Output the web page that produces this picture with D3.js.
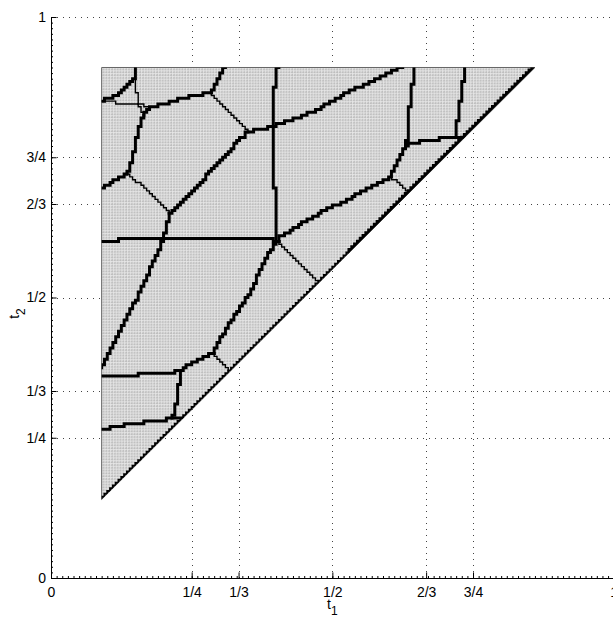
<!DOCTYPE html>
<html>
<head>
<meta charset="utf-8">
<script src="https://d3js.org/d3.v7.min.js"></script>
<style>
  body { margin: 0; background: #fff; }
  svg { display: block; font-family: "Liberation Sans", Arial, Helvetica, sans-serif; }
</style>
</head>
<body>
<div id="chart"></div>
<script>
// tick positions and their labels
const xTickValues = [0, 1/4, 1/3, 1/2, 2/3, 3/4, 1];
const xTickLabels = ["0", "1/4", "1/3", "1/2", "2/3", "3/4", "1"];
const yTickValues = [0, 1/4, 1/3, 1/2, 2/3, 3/4, 1];
const yTickLabels = ["0", "1/4", "1/3", "1/2", "2/3", "3/4", "1"];

// the shaded region (t1, t2)
const triangle = [[0.09, 0.14], [0.09, 0.91], [0.86, 0.91]];
const diagonalThin = [[0.09, 0.14], [0.53, 0.58]];
const diagonalThick = [[0.53, 0.58], [0.86, 0.91]];

// region boundaries, thick
const arcTopLeft = [[0.090, 0.850], [0.117, 0.861], [0.140, 0.880], [0.149, 0.890], [0.152, 0.913]];
const ridgeS_B = [[0.164, 0.825], [0.179, 0.840], [0.194, 0.843], [0.235, 0.856], [0.283, 0.865]];
const ridgeB_top = [[0.283, 0.865], [0.306, 0.906], [0.309, 0.913]];
const ridgeS_D = [[0.164, 0.825], [0.158, 0.805], [0.152, 0.781], [0.146, 0.751], [0.137, 0.721]];
const ridgeD_left = [[0.137, 0.721], [0.090, 0.695]];
const vertical1 = [[0.403, 0.913], [0.398, 0.882], [0.395, 0.852], [0.395, 0.808], [0.398, 0.674], [0.398, 0.620], [0.403, 0.600]];
const longDiagonal = [[0.351, 0.796], [0.395, 0.805], [0.466, 0.831], [0.526, 0.865], [0.585, 0.893], [0.624, 0.913]];
const ridgeC_E = [[0.351, 0.796], [0.306, 0.750], [0.242, 0.677], [0.212, 0.651]];
const ridgeE_F = [[0.212, 0.651], [0.203, 0.614], [0.200, 0.603]];
const midHorizontal = [[0.090, 0.600], [0.123, 0.603], [0.158, 0.605], [0.201, 0.605], [0.382, 0.605], [0.403, 0.600]];
const ridgeF_left = [[0.201, 0.605], [0.152, 0.496], [0.126, 0.448], [0.090, 0.377]];
const ridgeG_H = [[0.403, 0.600], [0.383, 0.573], [0.354, 0.508], [0.318, 0.454], [0.288, 0.401]];
const ridgeH_I = [[0.288, 0.401], [0.265, 0.389], [0.241, 0.377], [0.229, 0.368]];
const ridgeI_left = [[0.229, 0.368], [0.179, 0.365], [0.123, 0.359], [0.090, 0.359]];
const ridgeI_down = [[0.229, 0.368], [0.226, 0.317], [0.220, 0.305], [0.217, 0.285]];
const lowHorizontal = [[0.090, 0.264], [0.123, 0.271], [0.158, 0.277], [0.200, 0.282], [0.217, 0.285], [0.237, 0.287]];
const vertical2 = [[0.644, 0.913], [0.643, 0.882], [0.635, 0.822], [0.632, 0.772]];
const ridgeJ_top = [[0.632, 0.772], [0.656, 0.778], [0.697, 0.784], [0.718, 0.786], [0.727, 0.846], [0.732, 0.882], [0.736, 0.913]];
const ridgeJ_edge = [[0.718, 0.786], [0.733, 0.784]];
const ridgeJ_G = [[0.632, 0.772], [0.611, 0.733], [0.603, 0.715], [0.526, 0.674], [0.466, 0.644], [0.407, 0.608], [0.403, 0.600]];

// region boundaries, thin
const thinL_X = [[0.090, 0.850], [0.134, 0.845], [0.156, 0.844]];
const thinP_X = [[0.149, 0.890], [0.152, 0.866], [0.156, 0.844]];
const thinX_R = [[0.156, 0.844], [0.179, 0.840]];
const thinX_S = [[0.156, 0.844], [0.164, 0.825]];
const thinB_C = [[0.283, 0.865], [0.351, 0.796]];
const thinD_E = [[0.137, 0.721], [0.212, 0.651]];
const thinG_edge = [[0.403, 0.600], [0.475, 0.529]];
const thinH_edge = [[0.288, 0.401], [0.316, 0.368]];
const thinK_edge = [[0.603, 0.715], [0.636, 0.688]];

const thickLines = [arcTopLeft, ridgeS_B, ridgeB_top, ridgeS_D, ridgeD_left, vertical1, longDiagonal,
  ridgeC_E, ridgeE_F, midHorizontal, ridgeF_left, ridgeG_H, ridgeH_I, ridgeI_left, ridgeI_down,
  lowHorizontal, vertical2, ridgeJ_top, ridgeJ_edge, ridgeJ_G];
const thinLines = [thinL_X, thinP_X, thinX_R, thinX_S, thinB_C, thinD_E, thinG_edge, thinH_edge, thinK_edge];

const width = 613, height = 621;
const cell = 0.005; // grid step of the computed field

const x = d3.scaleLinear().domain([0, 1]).range([51, 613.7]);
const y = d3.scaleLinear().domain([0, 1]).range([578, 17]);

const svg = d3.select("#chart").append("svg")
  .attr("width", width)
  .attr("height", height);

// snap a polyline onto the cell grid, giving the stair look
const stairs = (pts, upFirst) => {
  const cells = [];
  for (let k = 0; k < pts.length - 1; k++) {
    const [a1, a2] = pts[k], [b1, b2] = pts[k + 1];
    const n = Math.ceil(Math.hypot(b1 - a1, b2 - a2) / cell * 4) + 1;
    for (let s = 0; s <= n; s++) {
      const c = [Math.round((a1 + (b1 - a1) * s / n) / cell), Math.round((a2 + (b2 - a2) * s / n) / cell)];
      const last = cells[cells.length - 1];
      if (last && last[0] === c[0] && last[1] === c[1]) continue;
      if (last && last[0] !== c[0] && last[1] !== c[1]) {
        cells.push(upFirst ? [last[0], c[1]] : [c[0], last[1]]);
      }
      cells.push(c);
    }
  }
  return cells.map(c => [c[0] * cell, c[1] * cell]);
};

const line = d3.line().x(d => x(d[0])).y(d => y(d[1]));

// fill pattern
const defs = svg.append("defs");
const cw = x(cell) - x(0), ch = y(0) - y(cell);
const pat = defs.append("pattern")
  .attr("id", "cells")
  .attr("patternUnits", "userSpaceOnUse")
  .attr("x", x(triangle[0][0]))
  .attr("y", y(triangle[1][1]))
  .attr("width", cw)
  .attr("height", ch);
pat.append("rect").attr("width", cw).attr("height", ch).attr("fill", "#bebebe");
pat.append("rect").attr("width", 0.9).attr("height", ch).attr("fill", "#e6e6e6");
pat.append("rect").attr("width", cw).attr("height", 0.9).attr("fill", "#e6e6e6");
pat.append("line").attr("x1", 0).attr("y1", ch).attr("x2", cw).attr("y2", 0)
  .attr("stroke", "#d6d6d6").attr("stroke-width", 0.6);

defs.append("clipPath").attr("id", "tri")
  .append("path").attr("d", line(triangle) + "Z");

// grid
const grid = svg.append("g")
  .attr("stroke", "#444")
  .attr("stroke-width", 1)
  .attr("stroke-dasharray", "1,5");
grid.selectAll(".gx").data(xTickValues.slice(1)).enter().append("line")
  .attr("x1", d => Math.round(x(d)) + 0.5).attr("x2", d => Math.round(x(d)) + 0.5)
  .attr("y1", y(0)).attr("y2", y(1));
grid.selectAll(".gy").data(yTickValues.slice(1)).enter().append("line")
  .attr("y1", d => Math.round(y(d)) + 0.5).attr("y2", d => Math.round(y(d)) + 0.5)
  .attr("x1", x(0)).attr("x2", x(1));

// shaded triangle
svg.append("path")
  .attr("d", line(triangle) + "Z")
  .attr("fill", "url(#cells)")
  .attr("stroke", "#666")
  .attr("stroke-width", 1);

const marks = svg.append("g").attr("clip-path", "url(#tri)")
  .attr("fill", "none")
  .attr("stroke", "#000")
  .attr("stroke-linejoin", "miter")
  .attr("stroke-linecap", "square");

marks.append("path").attr("d", line(stairs(diagonalThin, true))).attr("stroke-width", 2);
marks.append("path").attr("d", line(stairs(diagonalThick, true))).attr("stroke-width", 3.5);

marks.selectAll(".thin").data(thinLines).enter().append("path")
  .attr("d", d => line(stairs(d, false)))
  .attr("stroke-width", 1.4);
marks.selectAll(".thick").data(thickLines).enter().append("path")
  .attr("d", d => line(stairs(d, false)))
  .attr("stroke-width", 3);

// axes
const styleAxis = g => {
  g.attr("font-size", 14).attr("font-family", "Liberation Sans, Arial, Helvetica, sans-serif");
  g.selectAll("line").attr("stroke", "#000");
  g.select(".domain").attr("stroke", "#000");
  g.selectAll("text").attr("fill", "#000");
};

svg.append("g")
  .attr("transform", `translate(0,${y(0)})`)
  .call(d3.axisBottom(x).tickValues(d3.range(0, 1.001, 0.01)).tickSizeInner(-2).tickSizeOuter(0).tickFormat(""))
  .call(g => g.select(".domain").remove())
  .call(styleAxis);
svg.append("g")
  .attr("transform", `translate(${x(0)},0)`)
  .call(d3.axisLeft(y).tickValues(d3.range(0, 1.001, 0.01)).tickSizeInner(-2).tickSizeOuter(0).tickFormat(""))
  .call(g => g.select(".domain").remove())
  .call(styleAxis);

svg.append("g")
  .attr("transform", `translate(0,${y(0)})`)
  .call(d3.axisBottom(x).tickValues(xTickValues).tickFormat((d, i) => xTickLabels[i])
    .tickSizeInner(-5.6).tickSizeOuter(0).tickPadding(9))
  .call(styleAxis);
svg.append("g")
  .attr("transform", `translate(${x(0)},0)`)
  .call(d3.axisLeft(y).tickValues(yTickValues).tickFormat((d, i) => yTickLabels[i])
    .tickSizeInner(-5.6).tickSizeOuter(0).tickPadding(5))
  .call(styleAxis);

// axis titles
const xt = svg.append("text")
  .attr("x", (x(0) + x(1)) / 2)
  .attr("y", 609)
  .attr("text-anchor", "middle")
  .attr("font-size", 14);
xt.append("tspan").text("t");
xt.append("tspan").attr("dy", 6).attr("font-size", 12).text("1");

const yt = svg.append("text")
  .attr("transform", `translate(19,${(y(0) + y(1)) / 2 + 16}) rotate(-90)`)
  .attr("text-anchor", "middle")
  .attr("font-size", 14);
yt.append("tspan").text("t");
yt.append("tspan").attr("dy", 6).attr("font-size", 12).text("2");
</script>
</body>
</html>
